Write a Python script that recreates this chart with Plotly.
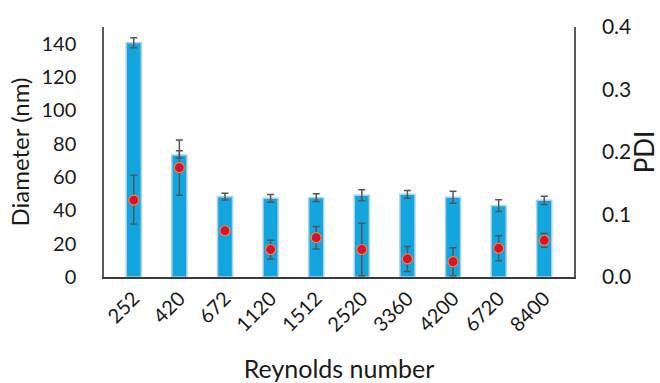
import plotly.graph_objects as go

# Reynolds number categories
reynolds = ["252", "420", "672", "1120", "1512", "2520", "3360", "4200", "6720", "8400"]

# Particle diameter (nm) with error bar extents
diameter = [140.5, 73.2, 48.2, 47.2, 47.6, 49.0, 49.6, 47.8, 42.8, 46.0]
diameter_err_plus = [3.0, 9.0, 2.0, 2.3, 2.3, 3.3, 2.3, 3.6, 3.5, 2.5]
diameter_err_minus = [3.0, 2.0, 2.0, 2.3, 2.3, 3.3, 2.3, 3.6, 3.5, 2.5]

# Polydispersity index with error bar extents
pdi = [0.123, 0.175, 0.074, 0.044, 0.063, 0.044, 0.029, 0.0245, 0.046, 0.0587]
pdi_err_plus = [0.040, 0.027, 0.006, 0.015, 0.018, 0.042, 0.020, 0.0225, 0.020, 0.011]
pdi_err_minus = [0.038, 0.044, 0.006, 0.015, 0.018, 0.042, 0.020, 0.0225, 0.020, 0.011]

left_ticks = [0, 20, 40, 60, 80, 100, 120, 140]
right_ticks = [0.0, 0.1, 0.2, 0.3, 0.4]

FONT = "Lato, Noto Sans, sans-serif"
AXIS_COLOR = "#595959"
ERR_COLOR = "#555555"
TEXT = "#1a1a1a"

fig = go.Figure()

fig.add_trace(go.Bar(
    x=reynolds,
    y=diameter,
    width=0.33,
    marker=dict(color="#12A5DE", line=dict(color="#A9D0F2", width=1.5)),
    error_y=dict(type="data", symmetric=False, array=diameter_err_plus,
                 arrayminus=diameter_err_minus, color=ERR_COLOR,
                 thickness=1.5, width=3.5),
    yaxis="y",
    showlegend=False,
))

fig.add_trace(go.Scatter(
    x=reynolds,
    y=pdi,
    mode="markers",
    marker=dict(color="#D9102E", size=10, line=dict(color="#F0883A", width=1.2)),
    error_y=dict(type="data", symmetric=False, array=pdi_err_plus,
                 arrayminus=pdi_err_minus, color=ERR_COLOR,
                 thickness=1.5, width=3.5),
    yaxis="y2",
    showlegend=False,
))

fig.update_layout(
    width=660,
    height=383,
    margin=dict(l=104, r=86, t=27, b=106),
    paper_bgcolor="white",
    plot_bgcolor="white",
    font=dict(family=FONT, color=TEXT, size=20),
    xaxis=dict(
        type="category",
        tickangle=-45,
        showline=True,
        linecolor="#3a3a3a",
        linewidth=2,
        ticks="",
        showgrid=False,
        automargin=False,
        tickfont=dict(size=20, family=FONT, color=TEXT),
        title=dict(text="Reynolds number", font=dict(size=25, family=FONT, color=TEXT),
                   standoff=31),
    ),
    yaxis=dict(
        range=[0, 150],
        tickvals=left_ticks,
        showline=True,
        linecolor=AXIS_COLOR,
        linewidth=1.5,
        ticks="",
        ticklabelstandoff=22,
        showgrid=False,
        zeroline=False,
        automargin=False,
        tickfont=dict(size=20, family=FONT, color=TEXT),
        title=dict(text="Diameter (nm)", font=dict(size=24, family=FONT, color=TEXT),
                   standoff=5),
    ),
    yaxis2=dict(
        range=[0, 0.4],
        tickvals=right_ticks,
        tickformat=".1f",
        overlaying="y",
        side="right",
        showline=True,
        linecolor=AXIS_COLOR,
        linewidth=1.5,
        ticks="",
        ticklabelstandoff=22,
        showgrid=False,
        zeroline=False,
        automargin=False,
        tickfont=dict(size=21, family=FONT, color=TEXT),
        title=dict(text="PDI", font=dict(size=26, family=FONT, color=TEXT), standoff=6),
    ),
)

fig.write_html("out.html")
